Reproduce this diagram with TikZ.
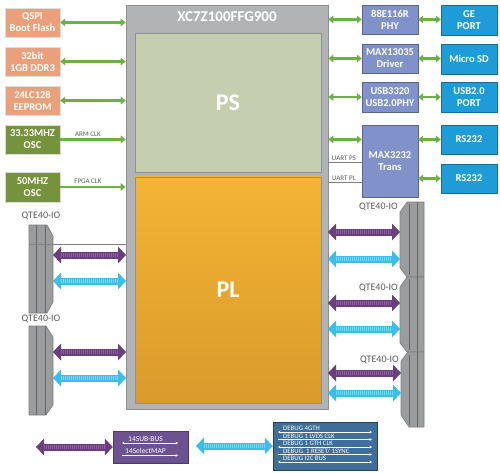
\documentclass[tikz,border=0pt]{standalone}
\usepackage{fontspec}
\setmainfont{Carlito}
\usetikzlibrary{arrows.meta}
\definecolor{chipgray}{HTML}{B2B3B5}
\definecolor{chipedge}{HTML}{8E8F91}
\definecolor{psfill}{HTML}{C5CFAF}
\definecolor{pltop}{HTML}{F4B435}
\definecolor{plbot}{HTML}{D99B2B}
\definecolor{salmon}{HTML}{E9A07B}
\definecolor{oscgreen}{HTML}{76923C}
\definecolor{phyblue}{HTML}{8191C9}
\definecolor{portblue}{HTML}{1E9CD8}
\definecolor{arrgreen}{HTML}{6DB143}
\definecolor{fatpurple}{HTML}{6B3E7E}
\definecolor{fatpurpletex}{HTML}{8E5FA3}
\definecolor{fatblue}{HTML}{3DBDE9}
\definecolor{fatbluetex}{HTML}{7FD6F2}
\definecolor{conngray}{HTML}{9B9C9E}
\definecolor{connedge}{HTML}{7C7D7F}
\definecolor{labgray}{HTML}{595959}
\definecolor{subpurple}{HTML}{6C5290}
\definecolor{debugblue}{HTML}{3F6E99}
\newcommand\fatarr[4]{%
  \draw[line width=7pt,#3,{Triangle[width=17pt,length=8pt,line width=0pt]}-{Triangle[width=17pt,length=8pt,line width=0pt]}] (#1) -- (#2);
  \draw[line width=4pt,#4,dash pattern=on 1pt off 1pt,shorten <=8pt,shorten >=8pt] (#1) -- (#2);}
\begin{document}
\begin{tikzpicture}[x=1pt,y=-1pt,
  box/.style={rectangle,inner sep=0pt,align=center,text=white,font=\fontsize{10.5}{12}\selectfont\bfseries},
  memb/.style={box,fill=salmon,draw=white!75!gray,minimum width=55pt,minimum height=29pt},
  oscb/.style={box,fill=oscgreen,draw=white!70!gray,minimum width=55pt,minimum height=29pt},
  phyb/.style={box,fill=phyblue,draw=phyblue!70!black,minimum width=56pt,minimum height=29pt},
  portb/.style={box,fill=portblue,draw=portblue!70!black,minimum width=56pt,minimum height=29pt},
  garr/.style={arrgreen,line width=2.5pt,{Triangle[width=8pt,length=5pt,line width=0pt]}-{Triangle[width=8pt,length=5pt,line width=0pt]}},
  garrone/.style={arrgreen,line width=2.5pt,-{Triangle[width=8pt,length=5pt,line width=0pt]}},
  smalllab/.style={text=labgray,font=\fontsize{7}{8}\selectfont,inner sep=1pt},
  qlab/.style={text=labgray,font=\fontsize{10}{11}\selectfont,inner sep=0pt},
  conn/.style={fill=conngray,draw=connedge,line width=0.6pt},
  connline/.style={draw=connedge!80!black,line width=0.5pt},
  dbg/.style={text=white,font=\fontsize{6.8}{7}\selectfont,inner sep=0pt,anchor=west},
  wline/.style={white,line width=0.5pt},
]
\useasboundingbox (0,0) rectangle (500,473);

% chip
\node[rectangle,fill=chipgray,draw=chipedge,line width=0.8pt,minimum width=202pt,minimum height=404pt,inner sep=0pt] (chip) at (227,207) {};
\node[text=white,font=\fontsize{15}{16}\selectfont\bfseries] (title) at (227,17) {XC7Z100FFG900};
\node[rectangle,fill=psfill,draw=chipedge,line width=0.8pt,minimum width=186pt,minimum height=139pt,inner sep=0pt,text=white,font=\fontsize{24}{26}\selectfont\bfseries] (ps) at (228,102.5) {PS};
\node[rectangle,top color=pltop,bottom color=plbot,draw=chipedge,line width=0.8pt,minimum width=186pt,minimum height=226pt,inner sep=0pt,text=white,font=\fontsize{24}{26}\selectfont\bfseries] (pl) at (228,290) {PL};

% left boxes
\node[memb] (qspi) at (32.5,22.5) {QSPI\\Boot Flash};
\node[memb] (ddr) at (32.5,61.5) {32bit\\1GB DDR3};
\node[memb] (eeprom) at (32.5,100.5) {24LC128\\EEPROM};
\node[oscb] (osca) at (32.5,139.5) {33.33MHZ\\OSC};
\node[oscb,minimum height=30pt] (oscb) at (32.5,187) {50MHZ\\OSC};

\draw[garr] (qspi.east) -- (qspi.east -| chip.west);
\draw[garr] (ddr.east) -- (ddr.east -| chip.west);
\draw[garr] (eeprom.east) -- (eeprom.east -| chip.west);
\draw[garrone] (osca.east) -- node[smalllab,above=1pt,xshift=-5pt] {ARM CLK} (osca.east -| chip.west);
\draw[garrone] (oscb.east) -- node[smalllab,above=1pt,xshift=-5pt] {FPGA CLK} (oscb.east -| chip.west);

% right boxes
\node[phyb] (phy) at (390,19.5) {88E116R\\PHY};
\node[phyb] (sddrv) at (390,58.5) {MAX13035\\Driver};
\node[phyb,minimum height=30pt] (usbphy) at (390,97) {USB3320\\USB2.0PHY};
\node[phyb,minimum height=72pt] (max) at (390,161) {MAX3232\\Trans};
\node[portb,minimum height=30pt] (ge) at (469,20) {GE\\PORT};
\node[portb,minimum height=30pt] (sd) at (469,59) {Micro SD};
\node[portb,minimum height=30pt] (usb) at (469,97) {USB2.0\\PORT};
\node[portb] (rsa) at (469,139.5) {RS232};
\node[portb] (rsb) at (469,178.5) {RS232};

\draw[garr] (phy.west -| chip.east) -- (phy.west);
\draw[garr] (sddrv.west -| chip.east) -- (sddrv.west);
\draw[garr] (usbphy.west -| chip.east) -- (usbphy.west);
\draw[garr] (rsa.west -| chip.east) -- (rsa.west -| max.west);
\draw[garr] (phy.east) -- (ge.west |- phy.east);
\draw[garr] (sddrv.east) -- (sd.west |- sddrv.east);
\draw[garr] (usbphy.east) -- (usb.west |- usbphy.east);
\draw[garr] (rsa.west -| max.east) -- (rsa.west);
\draw[garr] (rsb.west -| max.east) -- (rsb.west);

\coordinate (ups) at (328,162);
\coordinate (upl) at (328,182);
\draw[gray,line width=0.6pt] (ups) -- node[smalllab,above=0pt,xshift=-1pt] {UART PS} (ups -| max.west);
\draw[gray,line width=0.6pt] (upl) -- node[smalllab,above=0pt,xshift=-1pt] {UART PL} (upl -| max.west);

% left connectors
\draw[conn] (29,225) -- (47,225) -- (53,236) -- (53,302) -- (47,313) -- (29,313) -- cycle;
\draw[connline] (36,225) -- (36,313) (45,225) -- (45,313);
\draw[conn] (29,326) -- (46,326) -- (53,337) -- (53,405) -- (46,415) -- (29,415) -- cycle;
\draw[connline] (36,326) -- (36,415) (45,326) -- (45,415);
\draw[gray,line width=0.6pt] (29,244) -- (126,244);
\node[qlab] (ql1) at (41,216) {QTE40-IO};
\node[qlab] (ql2) at (41,319) {QTE40-IO};

% right connectors
\draw[conn] (407,202) -- (424,202) -- (424,277) -- (407,277) -- (400,268) -- (400,212) -- cycle;
\draw[connline] (409,204) -- (409,275) (417,202) -- (417,277);
\draw[conn] (407,277) -- (424,277) -- (424,352) -- (407,352) -- (400,343) -- (400,287) -- cycle;
\draw[connline] (409,279) -- (409,350) (417,277) -- (417,352);
\draw[conn] (408,352) -- (424,352) -- (424,427) -- (409,427) -- (401,415) -- (401,361) -- cycle;
\draw[connline] (409,355) -- (409,425) (417,352) -- (417,427);
\node[qlab,anchor=east] (qr1) at (398,207) {QTE40-IO};
\node[qlab,anchor=east] (qr2) at (398,288) {QTE40-IO};
\node[qlab,anchor=east] (qr3) at (399,360) {QTE40-IO};

% fat arrows left
\coordinate (la1) at (53,255); \coordinate (lb1) at (126,255);
\coordinate (la2) at (53,281); \coordinate (lb2) at (126,281);
\coordinate (la3) at (53,352); \coordinate (lb3) at (126,352);
\coordinate (la4) at (53,378); \coordinate (lb4) at (126,378);
\fatarr{la1}{lb1}{fatpurple}{fatpurpletex}
\fatarr{la2}{lb2}{fatblue}{fatbluetex}
\fatarr{la3}{lb3}{fatpurple}{fatpurpletex}
\fatarr{la4}{lb4}{fatblue}{fatbluetex}

% fat arrows right
\coordinate (ra1) at (328,232); \coordinate (rb1) at (400,232);
\coordinate (ra2) at (328,259); \coordinate (rb2) at (400,259);
\coordinate (ra3) at (328,303); \coordinate (rb3) at (400,303);
\coordinate (ra4) at (328,329); \coordinate (rb4) at (400,329);
\coordinate (ra5) at (328,373); \coordinate (rb5) at (401,373);
\coordinate (ra6) at (328,393); \coordinate (rb6) at (401,393);
\fatarr{ra1}{rb1}{fatpurple}{fatpurpletex}
\fatarr{ra2}{rb2}{fatblue}{fatbluetex}
\fatarr{ra3}{rb3}{fatpurple}{fatpurpletex}
\fatarr{ra4}{rb4}{fatblue}{fatbluetex}
\fatarr{ra5}{rb5}{fatpurple}{fatpurpletex}
\fatarr{ra6}{rb6}{fatblue}{fatbluetex}

% bottom
\node[rectangle,fill=subpurple,draw=subpurple!70!black,line width=0.5pt,minimum width=75pt,minimum height=32pt,inner sep=0pt] (sub) at (150.5,447) {};
\node[rectangle,fill=debugblue,draw=debugblue!60!black,line width=0.5pt,minimum width=104pt,minimum height=48pt,inner sep=0pt] (dbgbox) at (325,446) {};
\coordinate (bfree) at (36,447);
\coordinate (bmid) at (196,446);
\fatarr{bfree}{sub.west}{fatpurple}{fatpurpletex}
\fatarr{bmid}{dbgbox.west}{fatblue}{fatbluetex}

\node[dbg,font=\fontsize{7.5}{8}\selectfont] (t1) at (128,439) {14SUB-BUS};
\draw[wline,{Stealth[length=2.5pt,width=2.5pt]}-{Stealth[length=2.5pt,width=2.5pt]}] (122,443) -- (178,443);
\node[dbg,font=\fontsize{7.5}{8}\selectfont] (t2) at (125,451) {14SelectMAP};
\draw[wline,-{Stealth[length=2.5pt,width=2.5pt]}] (122,455.5) -- (178,455.5);

\node[dbg] (d1) at (283,428.5) {DEBUG 4GTH};
\draw[wline,{Stealth[length=2.5pt,width=2.5pt]}-{Stealth[length=2.5pt,width=2.5pt]}] (278,432) -- (372,432);
\node[dbg] (d2) at (283,436) {DEBUG 1 LVDS CLK};
\draw[wline,-{Stealth[length=2.5pt,width=2.5pt]}] (278,439.5) -- (372,439.5);
\node[dbg] (d3) at (283,443.5) {DEBUG 1 GTH CLK};
\draw[wline,{Stealth[length=2.5pt,width=2.5pt]}-{Stealth[length=2.5pt,width=2.5pt]}] (278,447) -- (372,447);
\node[dbg] (d4) at (283,451) {DEBUG\ \ 1 RESET/ 1SYNC};
\draw[wline,-{Stealth[length=2.5pt,width=2.5pt]}] (278,454.5) -- (372,454.5);
\node[dbg] (d5) at (283,458.5) {DEBUG I2C BUS};
\draw[wline,{Stealth[length=2.5pt,width=2.5pt]}-{Stealth[length=2.5pt,width=2.5pt]}] (278,462) -- (372,462);
\end{tikzpicture}
\end{document}
